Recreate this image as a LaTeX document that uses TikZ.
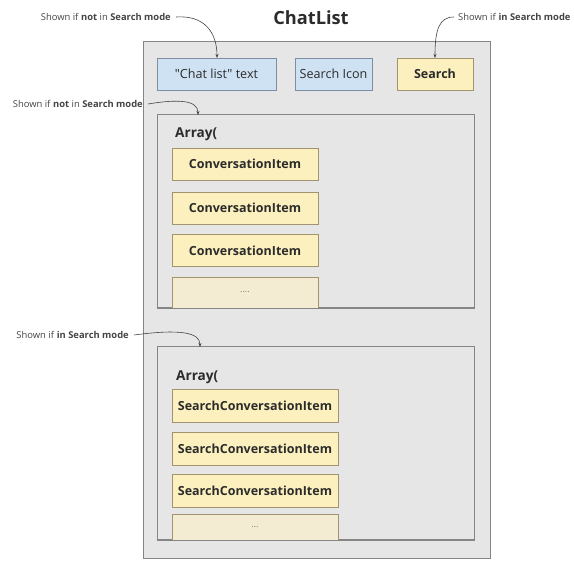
\documentclass[tikz,border=0pt]{standalone}
\usepackage{fontspec}
\setmainfont{Open Sans}
\newfontfamily\plainsans{Open Sans}
\usetikzlibrary{arrows.meta}
\definecolor{outerfill}{HTML}{E6E6E6}
\definecolor{outerline}{HTML}{858585}
\definecolor{bluefill}{HTML}{CFE2F3}
\definecolor{blueline}{HTML}{7F8FA3}
\definecolor{yelfill}{HTML}{FCF0BE}
\definecolor{yelline}{HTML}{A39470}
\definecolor{dotfill}{HTML}{F3ECD3}
\definecolor{txt}{HTML}{2B2B2B}
\definecolor{note}{HTML}{444444}
\tikzset{
  outerbox/.style={draw=outerline, fill=outerfill, line width=1pt, inner sep=0pt},
  arraybox/.style={draw=outerline, fill=outerfill, line width=1pt, inner sep=0pt},
  bluebox/.style={draw=blueline, fill=bluefill, line width=0.9pt, inner sep=0pt, minimum height=32pt, font=\plainsans\fontsize{12.6}{14}\selectfont, text=txt},
  yelbox/.style={draw=yelline, fill=yelfill, line width=0.9pt, inner sep=0pt, font=\fontsize{12.5}{14}\selectfont\bfseries, text=txt},
  dotbox/.style={draw=yelline, fill=dotfill, line width=0.9pt, inner sep=0pt, font=\fontsize{9}{10}\selectfont, text=gray},
  notetext/.style={font=\fontsize{9.4}{11}\selectfont, text=note, inner sep=0pt},
  notearrow/.style={draw=note, line width=0.6pt, -{Stealth[length=4pt,width=3pt]}},
  arraylabel/.style={font=\fontsize{13.6}{16}\selectfont\bfseries, text=txt, anchor=west, inner sep=0pt}
}
\begin{document}
\begin{tikzpicture}[x=1pt,y=-1pt]
\useasboundingbox (0,0) rectangle (574,561);
% title
\node[font=\fontsize{18.2}{21}\selectfont\bfseries, text=txt] (title) at (311,18) {ChatList};
% outer
\node[outerbox, minimum width=347pt, minimum height=517pt] (outer) at (316.5,300.5) {};
% top row
\node[bluebox, minimum width=119pt] (chattext) at (216.5,74) {"Chat list" text};
\node[bluebox, minimum width=77pt] (searchicon) at (333.5,74) {Search Icon};
\node[yelbox, minimum width=76pt, minimum height=32pt] (search) at (435,74) {Search};
% array 1
\node[arraybox, minimum width=317pt, minimum height=193pt] (arr1) at (315.5,211.5) {};
\node[arraylabel] (arr1lbl) at (175,134) {Array(};
\node[yelbox, minimum width=146pt, minimum height=32pt] (ci1) at (245,164) {ConversationItem};
\node[yelbox, minimum width=146pt, minimum height=32pt] (ci2) at (245,208) {ConversationItem};
\node[yelbox, minimum width=146pt, minimum height=32pt] (ci3) at (245,250.5) {ConversationItem};
\node[dotbox, minimum width=146pt, minimum height=31pt] (cidots) at (245,292.5) {....};
\draw[outerline, line width=1pt] (arr1.south west) -- (arr1.south east);
% array 2
\node[arraybox, minimum width=317pt, minimum height=193pt] (arr2) at (315.5,443.5) {};
\node[arraylabel] (arr2lbl) at (176,377) {Array(};
\node[yelbox, minimum width=166pt, minimum height=33pt] (sci1) at (255,405.5) {SearchConversationItem};
\node[yelbox, minimum width=166pt, minimum height=33pt] (sci2) at (255,448.5) {SearchConversationItem};
\node[yelbox, minimum width=166pt, minimum height=33pt] (sci3) at (255,490.5) {SearchConversationItem};
\node[dotbox, minimum width=166pt, minimum height=26pt] (scidots) at (255,527) {...};
\draw[outerline, line width=1pt] (arr2.south west) -- (arr2.south east);
% annotations
\node[notetext, anchor=east] (n1) at (171,17) {Shown if \textbf{not} in \textbf{Search mode}};
\node[notetext, anchor=west] (n2) at (458,17) {Shown if \textbf{in Search mode}};
\node[notetext, anchor=east] (n3) at (143,104) {Shown if \textbf{not} in \textbf{Search mode}};
\node[notetext, anchor=east] (n4) at (129,335) {Shown if \textbf{in Search mode}};
\coordinate (t1) at (217,58);
\coordinate (t2) at (435,58);
\coordinate (t3) at (198,115);
\coordinate (t4) at (200,347);
\draw[notearrow] ([xshift=5pt]n1.east) .. controls +(28,-2) and (217,32) .. (t1);
\draw[notearrow] ([xshift=-4pt]n2.west) .. controls +(-15,0) and (435,30) .. (t2);
\draw[notearrow] ([xshift=5pt]n3.east) .. controls +(30,-5) and (198,100) .. (t3);
\draw[notearrow] ([xshift=5pt]n4.east) .. controls +(45,-6) and (200,332) .. (t4);
\end{tikzpicture}
\end{document}
